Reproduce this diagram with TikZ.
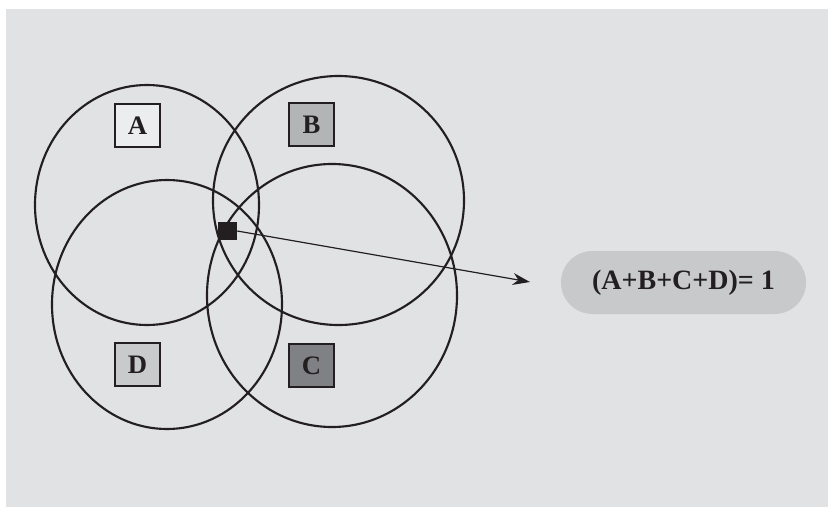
\documentclass[tikz,border=0pt]{standalone}
\usepackage{fontspec}
\setmainfont{Liberation Serif}
\usetikzlibrary{arrows.meta}
\definecolor{bggray}{HTML}{E1E2E4}
\definecolor{afill}{HTML}{ECEDEE}
\definecolor{bfill}{HTML}{B3B4B6}
\definecolor{dfill}{HTML}{C9CACC}
\definecolor{cfill}{HTML}{808184}
\definecolor{pillfill}{HTML}{C8C9CB}
\definecolor{ink}{HTML}{231F20}
\tikzset{
  ring/.style={draw=ink, line width=1.6pt},
  letterbox/.style={draw=ink, line width=0.9pt, minimum width=33.75pt, minimum height=32.25pt, inner sep=0pt, font=\fontsize{20}{20}\selectfont\bfseries, text=ink},
  pill/.style={fill=pillfill, rounded corners=23.6pt, minimum width=183.75pt, minimum height=47.25pt, inner sep=0pt, font=\fontsize{21}{21}\selectfont\bfseries, text=ink},
  dotbox/.style={fill=ink, minimum width=14.25pt, minimum height=13.5pt, inner sep=0pt},
  link/.style={draw=ink, line width=0.9pt, -{Stealth[length=13pt,width=9pt]}}
}
\begin{document}
\begin{tikzpicture}[x=0.75pt,y=-0.75pt]
\useasboundingbox (0,0) rectangle (828,507);
\fill[bggray] (6,9) rectangle (828,507);
% ellipses
\draw[ring] (147,205) ellipse [x radius=112, y radius=120];
\draw[ring] (338.5,200.5) ellipse [x radius=125.5, y radius=124.5];
\draw[ring] (167,304.5) ellipse [x radius=115, y radius=124.5];
\draw[ring] (332,295.5) ellipse [x radius=125, y radius=131.5];
% boxes
\node[letterbox, fill=afill] (A) at (137.5,125.5) {A};
\node[letterbox, fill=bfill] (B) at (311.5,124.5) {B};
\node[letterbox, fill=dfill] (D) at (137.5,364.5) {D};
\node[letterbox, fill=cfill] (C) at (311.5,365.5) {C};
% point and result
\node[dotbox] (P) at (227.5,231) {};
\coordinate (T) at (530,282);
\node[pill] (R) at (683.5,282.5) {(A+B+C+D)= 1};
\draw[link] (P.east) -- (T);
\end{tikzpicture}
\end{document}
